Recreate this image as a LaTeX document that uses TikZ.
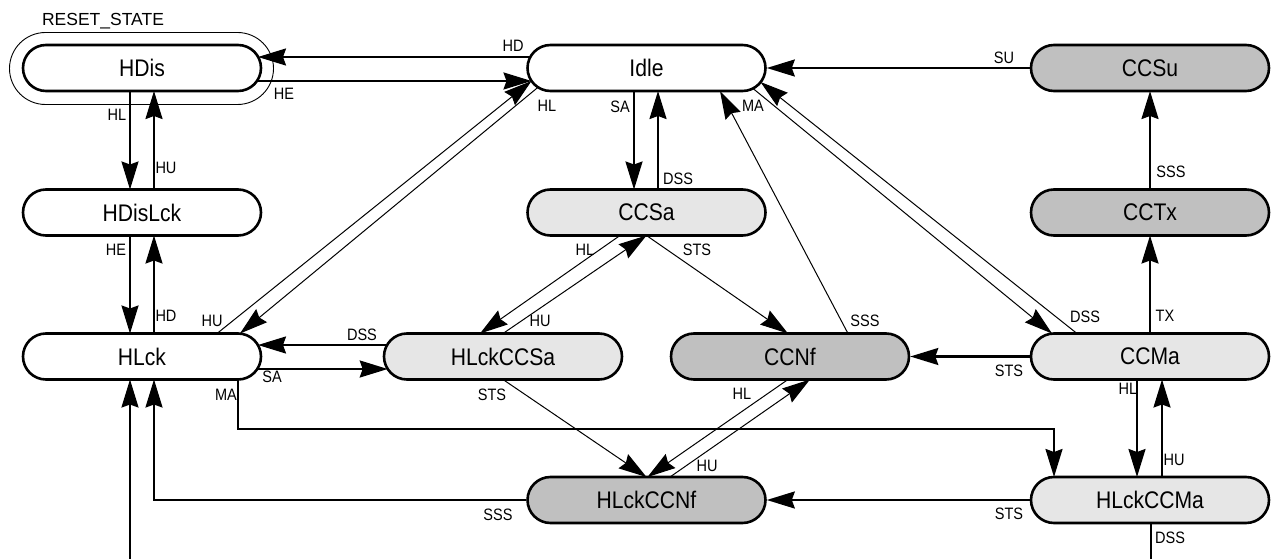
\documentclass[tikz,border=0pt]{standalone}
\usepackage{fontspec}
\setmainfont{Liberation Sans}
\newfontfamily\narrowfont{Liberation Sans}[FakeStretch=0.88]
\usetikzlibrary{shapes.misc,arrows.meta,calc}
\definecolor{lgray}{HTML}{E6E6E6}
\definecolor{dgray}{HTML}{C0C0C0}
\begin{document}
\begin{tikzpicture}[x=1pt,y=-1pt,
  state/.style={rounded rectangle, draw, line width=2.6pt, minimum width=238pt,
    minimum height=46pt, inner sep=0pt, font=\narrowfont\fontsize{24}{28}\selectfont},
  lbl/.style={font=\narrowfont\fontsize{16.5}{19}\selectfont, inner sep=0pt},
  tipstyle/.style={-{Stealth[length=28pt,width=17pt,inset=3pt]}},
  conn/.style={line width=2.2pt, tipstyle},
  connthin/.style={line width=1pt, tipstyle},
  plainline/.style={line width=2.2pt}]
\useasboundingbox (0,0) rectangle (1271,559);

% reset ring
\node[rounded rectangle, draw, line width=0.9pt, minimum width=264pt,
  minimum height=72pt, inner sep=0pt] (resetring) at (141.5,68.5) {};
\node[font=\fontsize{17.5}{20}\selectfont, inner sep=0pt] (resetlbl) at (103,21) {RESET\_STATE};

% states
\node[state, fill=white] (hdis)     at (142,68)    {HDis};
\node[state, fill=white] (hdislck)  at (142,212.5) {HDisLck};
\node[state, fill=white] (hlck)     at (142,356.5) {HLck};
\node[state, fill=white] (idle)     at (646.5,68)  {Idle};
\node[state, fill=lgray] (ccsa)     at (646.5,212.5) {CCSa};
\node[state, fill=dgray] (ccsu)     at (1150,68)   {CCSu};
\node[state, fill=dgray] (cctx)     at (1150,212.5) {CCTx};
\node[state, fill=lgray] (hlckccsa) at (503,356.5) {HLckCCSa};
\node[state, fill=dgray] (ccnf)     at (790,356.5) {CCNf};
\node[state, fill=lgray] (ccma)     at (1150,356.5) {CCMa};
\node[state, fill=dgray] (hlckccnf) at (646.5,500) {HLckCCNf};
\node[state, fill=lgray] (hlckccma) at (1150,500) {HLckCCMa};

\coordinate (offB) at (1151,559);
\coordinate (offA) at (130,559);
\coordinate (maknee) at ($(hlck)+(96,72.5)$);

% top row
\draw[conn] ($(idle)+(-116,-11)$) -- ($(hdis)+(116,-11)$);
\draw[conn] ($(hdis)+(115,13)$) -- ($(idle)+(-115,13)$);
\draw[conn] (ccsu.west) -- (idle.east);
% left column
\draw[conn] ($(hdis)+(-12,23)$) -- ($(hdislck)+(-12,-23)$);
\draw[conn] ($(hdislck)+(12,-23)$) -- ($(hdis)+(12,23)$);
\draw[conn] ($(hdislck)+(-12,23)$) -- ($(hlck)+(-12,-23)$);
\draw[conn] ($(hlck)+(12,-23)$) -- ($(hdislck)+(12,23)$);
% idle - hlck diagonals
\draw[connthin] ($(hlck)+(75,-23)$) -- ($(idle)+(-115,13)$);
\draw[connthin] ($(idle)+(-108.5,19.3)$) -- ($(hlck)+(98,-23)$);
% idle - ccsa
\draw[conn] ($(idle)+(-12.5,23)$) -- ($(ccsa)+(-12.5,-23)$);
\draw[conn] ($(ccsa)+(11.5,-23)$) -- ($(idle)+(11.5,23)$);
% right column
\draw[conn] ($(cctx)+(0,-23)$) -- ($(ccsu)+(0,23)$);
\draw[conn] ($(ccma)+(0,-23)$) -- ($(cctx)+(0,23)$);
% idle - ccma diagonals
\draw[connthin] ($(idle)+(106.5,20.5)$) -- ($(ccma)+(-98,-23)$);
\draw[connthin] ($(ccma)+(-73,-23)$) -- ($(idle)+(114,14)$);
% ccnf -> idle
\draw[connthin] ($(ccnf)+(58,-23)$) -- ($(idle)+(73.5,23)$);
% ccsa -> ccnf
\draw[connthin] ($(ccsa)+(0,23)$) -- ($(ccnf)+(-2,-23)$);
% ccsa <-> hlckccsa
\draw[connthin] ($(ccsa)+(-26.5,23)$) -- ($(hlckccsa)+(-23,-23)$);
\draw[connthin] ($(hlckccsa)+(0,-23)$) -- ($(ccsa)+(0,23)$);
% hlckccsa <-> hlck
\draw[conn] ($(hlckccsa)+(-116,-11.5)$) -- ($(hlck)+(116,-11.5)$);
\draw[conn] ($(hlck)+(115.3,12.5)$) -- ($(hlckccsa)+(-115.3,12.5)$);
% hlckccsa -> hlckccnf
\draw[connthin] ($(hlckccsa)+(0,23)$) -- ($(hlckccnf)+(0,-23)$);
% ccnf <-> hlckccnf
\draw[connthin] ($(ccnf)+(-2,23)$) -- ($(hlckccnf)+(1,-23)$);
\draw[connthin] ($(hlckccnf)+(23.5,-23)$) -- ($(ccnf)+(20,23)$);
% ccma -> ccnf
\draw[conn] (ccma.west) -- (ccnf.east);
% ccma <-> hlckccma
\draw[conn] ($(ccma)+(-13,23)$) -- ($(hlckccma)+(-13,-23)$);
\draw[conn] ($(hlckccma)+(12,-23)$) -- ($(ccma)+(12,23)$);
% hlckccma -> hlckccnf
\draw[conn] (hlckccma.west) -- (hlckccnf.east);
% MA: hlck -> hlckccma
\draw[conn] ($(hlck)+(96,23)$) -- (maknee) -| ($(hlckccma)+(-96,-23)$);
% SSS: hlckccnf -> hlck
\draw[conn] (hlckccnf.west) -| ($(hlck)+(12,23)$);
% off-page
\draw[plainline] ($(hlckccma)+(1,23)$) -- (offB);
\draw[conn] (offA) -- ($(hlck)+(-12,23)$);

% labels
\node[lbl] (l01) at (513,46) {HD};
\node[lbl] (l02) at (284,94) {HE};
\node[lbl] (l03) at (117,115) {HL};
\node[lbl] (l04) at (166,168) {HU};
\node[lbl] (l05) at (116,250) {HE};
\node[lbl] (l06) at (166,316) {HD};
\node[lbl] (l07) at (212,321) {HU};
\node[lbl] (l08) at (547,106) {HL};
\node[lbl] (l09) at (620,107) {SA};
\node[lbl] (l10) at (678,179) {DSS};
\node[lbl] (l11) at (1004,58) {SU};
\node[lbl] (l12) at (1171,172) {SSS};
\node[lbl] (l13) at (1165,316) {TX};
\node[lbl] (l14) at (753,106) {MA};
\node[lbl] (l15) at (1085,317) {DSS};
\node[lbl] (l16) at (865,321) {SSS};
\node[lbl] (l17) at (697,250) {STS};
\node[lbl] (l18) at (585,250) {HL};
\node[lbl] (l19) at (540,321) {HU};
\node[lbl] (l20) at (362,335) {DSS};
\node[lbl] (l21) at (272,377) {SA};
\node[lbl] (l22) at (492,395) {STS};
\node[lbl] (l23) at (742,394) {HL};
\node[lbl] (l24) at (707,466) {HU};
\node[lbl] (l25) at (1009,371) {STS};
\node[lbl] (l26) at (1128,389) {HL};
\node[lbl] (l27) at (1174,460) {HU};
\node[lbl] (l28) at (226,395) {MA};
\node[lbl] (l29) at (498,515) {SSS};
\node[lbl] (l30) at (1009,514) {STS};
\node[lbl] (l31) at (1170,538) {DSS};
\end{tikzpicture}
\end{document}
